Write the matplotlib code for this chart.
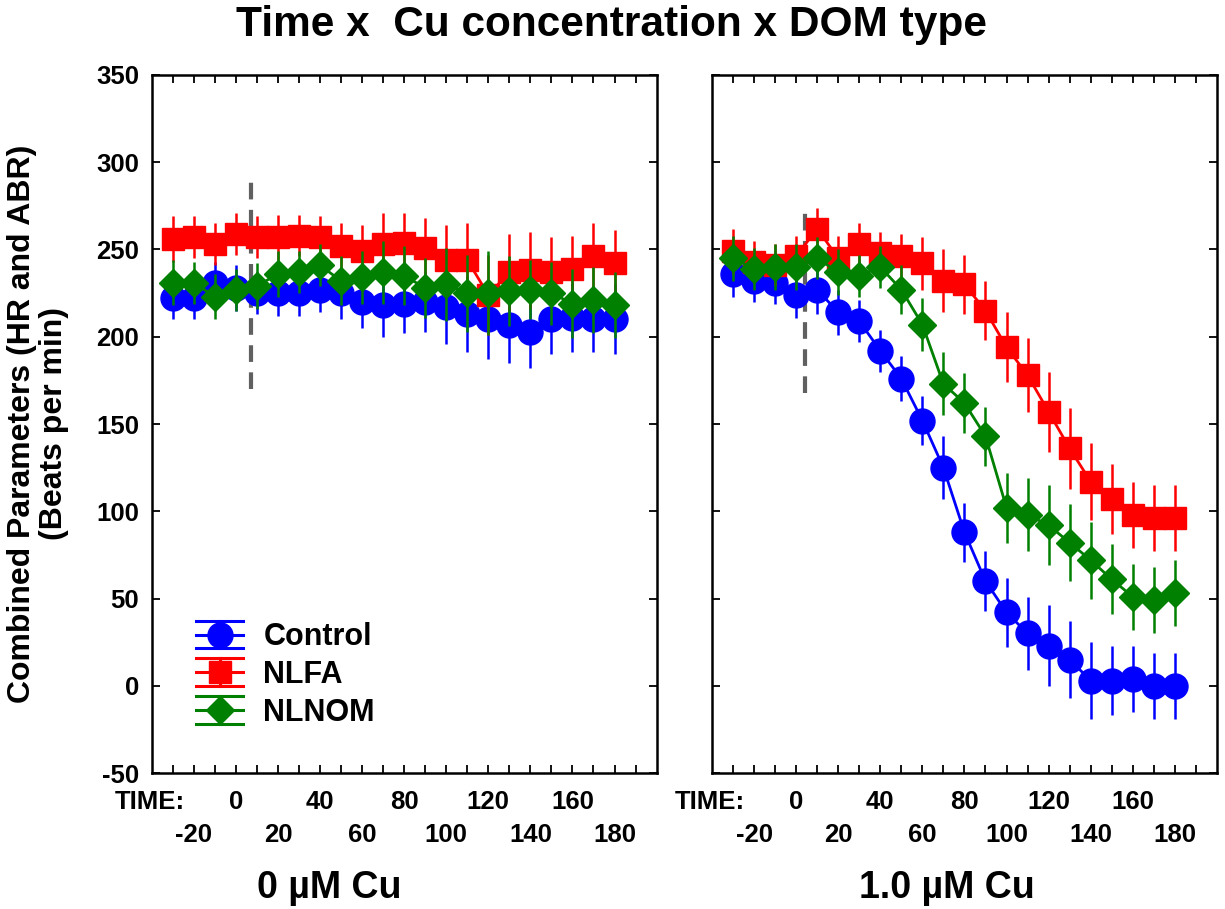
import matplotlib
matplotlib.use("Agg")
import matplotlib.pyplot as plt
from matplotlib.lines import Line2D
from matplotlib.legend_handler import HandlerLine2D

plt.rcParams["font.family"] = ["Liberation Sans", "DejaVu Sans"]
plt.rcParams["font.weight"] = "bold"
plt.rcParams["axes.unicode_minus"] = False

times = [-30, -20, -10, 0, 10, 20, 30, 40, 50, 60, 70, 80, 90, 100, 110, 120, 130, 140, 150, 160, 170, 180]
series_names = ["Control", "NLFA", "NLNOM"]
panel_labels = ["0 \u00b5M Cu", "1.0 \u00b5M Cu"]
tick_row1 = [0, 40, 80, 120, 160]
tick_row2 = [-20, 20, 60, 100, 140, 180]

# 0 uM Cu
ctrl0 = [222, 222, 231, 228, 225, 225, 225, 227, 225, 220, 218, 219, 220, 217, 213, 210, 207, 203, 210, 211, 210, 210]
ctrl0_err = [12, 12, 12, 13, 12, 13, 13, 13, 15, 15, 18, 17, 17, 21, 22, 23, 22, 21, 20, 20, 19, 20]
nlfa0 = [256, 257, 253, 259, 257, 257, 258, 257, 252, 249, 253, 254, 251, 244, 244, 224, 237, 238, 237, 239, 246, 242]
nlfa0_err = [13, 12, 12, 12, 12, 13, 12, 12, 13, 15, 18, 17, 17, 20, 21, 23, 22, 22, 20, 19, 19, 19]
nlnom0 = [231, 231, 223, 227, 229, 236, 237, 241, 232, 234, 237, 235, 228, 230, 225, 225, 226, 227, 225, 219, 221, 218]
nlnom0_err = [13, 12, 13, 12, 13, 13, 12, 12, 14, 15, 18, 17, 17, 21, 22, 24, 20, 17, 18, 20, 19, 19]

# 1.0 uM Cu
ctrl1 = [236, 232, 231, 224, 227, 214, 209, 192, 176, 152, 125, 88, 60, 42, 30, 23, 15, 3, 3, 4, 0, 0]
ctrl1_err = [13, 12, 12, 13, 14, 13, 12, 12, 13, 14, 18, 17, 17, 20, 21, 23, 22, 22, 20, 19, 19, 19]
nlfa1 = [249, 243, 241, 246, 262, 245, 253, 248, 246, 242, 232, 230, 215, 194, 178, 157, 136, 117, 107, 98, 96, 96]
nlfa1_err = [13, 12, 12, 12, 12, 13, 12, 12, 13, 15, 18, 17, 17, 20, 21, 23, 23, 22, 20, 19, 19, 19]
nlnom1 = [245, 239, 240, 240, 245, 237, 235, 240, 227, 207, 173, 162, 143, 102, 98, 92, 82, 72, 61, 51, 49, 53]
nlnom1_err = [13, 12, 13, 13, 12, 13, 12, 12, 14, 15, 18, 17, 17, 20, 21, 23, 22, 22, 20, 19, 19, 19]

# exposure marker (dashed line) per panel: x, y from, y to
dash0 = [7, 170, 290]
dash1 = [4, 168, 274]

colors = ["#0000ff", "#ff0000", "#008000"]
markers = ["o", "s", "D"]
msizes = [18, 15.5, 14.5]


class HandlerBars(HandlerLine2D):
    def create_artists(self, legend, orig_handle, xdescent, ydescent, width, height, fontsize, trans):
        arts = super().create_artists(legend, orig_handle, xdescent, ydescent, width, height, fontsize, trans)
        yc = height / 2 - ydescent
        dy = 0.45 * fontsize
        col = orig_handle.get_color()
        lw = orig_handle.get_linewidth()
        extra = [Line2D([-xdescent, -xdescent + width], [yc + dy, yc + dy], color=col, lw=lw),
                 Line2D([-xdescent, -xdescent + width], [yc - dy, yc - dy], color=col, lw=lw),
                 Line2D([-xdescent + width / 2] * 2, [yc - dy, yc + dy], color=col, lw=lw)]
        for ln in extra:
            ln.set_transform(trans)
        return extra + arts


fig = plt.figure(figsize=(12.25, 9.09), dpi=100)
ax_l = fig.add_axes([0.1238, 0.1496, 0.4122, 0.7679])
ax_r = fig.add_axes([0.5812, 0.1496, 0.4122, 0.7679])

panels = [
    (ax_l, [ctrl0, nlfa0, nlnom0], [ctrl0_err, nlfa0_err, nlnom0_err], dash0),
    (ax_r, [ctrl1, nlfa1, nlnom1], [ctrl1_err, nlfa1_err, nlnom1_err], dash1),
]

for i, (ax, vals, errs, dash) in enumerate(panels):
    ax.plot([dash[0], dash[0]], [dash[1], dash[2]], color="#606060", lw=3, ls=(0, (4, 2.5)), zorder=1)
    for k in range(3):
        ax.errorbar(times, vals[k], yerr=errs[k], color=colors[k], marker=markers[k], ms=msizes[k],
                    lw=2, elinewidth=1.8, capsize=0, zorder=2 + k)

    ax.set_xlim(-40, 200)
    ax.set_ylim(-50, 350)
    ax.set_yticks(range(-50, 351, 50))
    ax.set_xticks(times + [190])
    ax.set_xticklabels([])
    ax.tick_params(direction="in", top=True, right=True, length=6, width=1.3, labelsize=18.5, pad=9)
    for sp in ax.spines.values():
        sp.set_linewidth(1.8)
    if i == 1:
        ax.set_yticklabels([])
    else:
        for lab in ax.get_yticklabels():
            lab.set_fontweight("bold")

    xt = ax.get_xaxis_transform()
    ax.text(-41, -0.041, "TIME:", transform=xt, ha="center", va="center", fontsize=18.5, fontweight="bold", clip_on=False)
    for t in tick_row1:
        ax.text(t, -0.041, str(t), transform=xt, ha="center", va="center", fontsize=18.5, fontweight="bold")
    for t in tick_row2:
        ax.text(t, -0.089, str(t), transform=xt, ha="center", va="center", fontsize=18.5, fontweight="bold")

handles = [Line2D([], [], color=colors[k], marker=markers[k], ms=msizes[k], lw=2.2) for k in range(3)]
ax_l.legend(handles, series_names, loc="upper left", bbox_to_anchor=(0.088, 0.216), frameon=False,
            prop={"size": 22, "weight": "bold"}, handlelength=1.55, handletextpad=0.65,
            labelspacing=0.25, borderpad=0, borderaxespad=0,
            handler_map={Line2D: HandlerBars()})

fig.text(0.499, 0.9725, "Time x  Cu concentration x DOM type", ha="center", va="center",
         fontsize=30.5, fontweight="bold")
fig.text(0.031, 0.5336, "Combined Parameters (HR and ABR)\n(Beats per min)", rotation=90,
         ha="center", va="center", multialignment="center", linespacing=1.05,
         fontsize=23, fontweight="bold")
fig.text(0.2686, 0.023, panel_labels[0], ha="center", va="center", fontsize=27, fontweight="bold")
fig.text(0.773, 0.023, panel_labels[1], ha="center", va="center", fontsize=27, fontweight="bold")

fig.savefig("out.png", dpi=100)
